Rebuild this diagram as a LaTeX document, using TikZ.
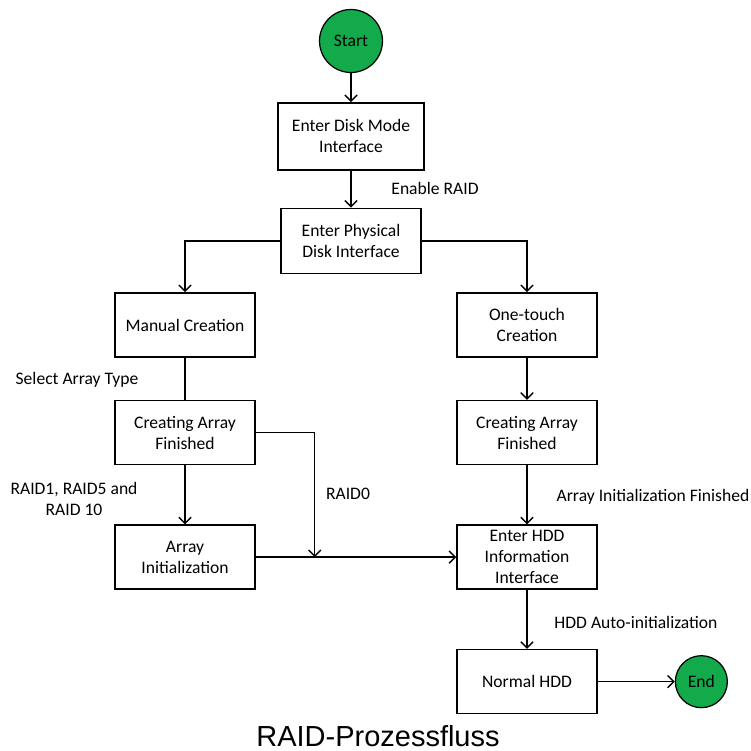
\documentclass[tikz,border=0pt]{standalone}
\usepackage{fontspec}
\setmainfont{Carlito}
\newfontfamily\titlefont{Liberation Sans}
\definecolor{RAIDgreen}{HTML}{12AA4A}
\usetikzlibrary{arrows.meta, positioning}

\begin{document}
\begin{tikzpicture}[
  x=0.02cm, y=-0.02cm,
  font=\fontsize{10}{12}\selectfont,
  box/.style={draw, line width=0.9pt, align=center,
    minimum width=2.8cm, minimum height=1.28cm, inner sep=2pt},
  term/.style={circle, draw, line width=0.7pt, fill=RAIDgreen, inner sep=0pt},
  lbl/.style={align=center, inner sep=1pt},
  arr/.style={-{Straight Barb[length=3.5pt, width=7pt]}, line width=0.8pt},
  ln/.style={line width=0.8pt}
]
\useasboundingbox (0,0) rectangle (751,751);

\node[term, minimum size=1.26cm] (start) at (351,41) {Start};
\node[box, minimum width=2.92cm, minimum height=1.34cm] (disk) [below=0.58cm of start] {Enter Disk Mode\\Interface};
\node[box, minimum height=1.3cm] (phys) [below=0.74cm of disk] {Enter Physical\\Disk Interface};

\node[box] (manual) at (185,325) {Manual Creation};
\node[box] (createL) [below=0.84cm of manual] {Creating Array\\Finished};
\node[box] (arrinit) [below=1.18cm of createL] {Array\\Initialization};

\node[box] (onetouch) at (527,325) {One-touch\\Creation};
\node[box] (createR) [below=0.84cm of onetouch] {Creating Array\\Finished};
\node[box] (hdd) [below=1.18cm of createR] {Enter HDD\\Information\\Interface};
\node[box] (normal) [below=1.18cm of hdd] {Normal HDD};
\node[term, minimum size=1.04cm] (finish) [right=1.54cm of normal] {End};

\path (arrinit.east) ++(59,0) coordinate (merge);

% labels
\node[lbl] (enable) at (435,188) {Enable RAID};
\node[lbl] (select) at (77,380) {Select Array Type};
\node[lbl] (raidn) at (74,499) {RAID1, RAID5 and\\RAID 10};
\node[lbl] (raid0) at (348,494) {RAID0};
\node[lbl] (initdone) at (653,497) {Array Initialization Finished};
\node[lbl] (auto) at (636,622) {HDD Auto-initialization};

\node (title) at (378,736) {\titlefont\fontsize{16.5}{20}\selectfont RAID-Prozessfluss};

\draw[arr] (start)--(disk);
\draw[arr] (disk)--(phys);
\draw[arr] (phys.west) -| (manual.north);
\draw[arr] (phys.east) -| (onetouch.north);
\draw[ln] (manual)--(createL);
\draw[arr] (createL)--(arrinit);
\draw[arr] (createL.east) -| (merge);
\draw[arr] (arrinit)--(hdd);
\draw[arr] (onetouch)--(createR);
\draw[arr] (createR)--(hdd);
\draw[arr] (hdd)--(normal);
\draw[arr] (normal)--(finish);
\end{tikzpicture}
\end{document}
